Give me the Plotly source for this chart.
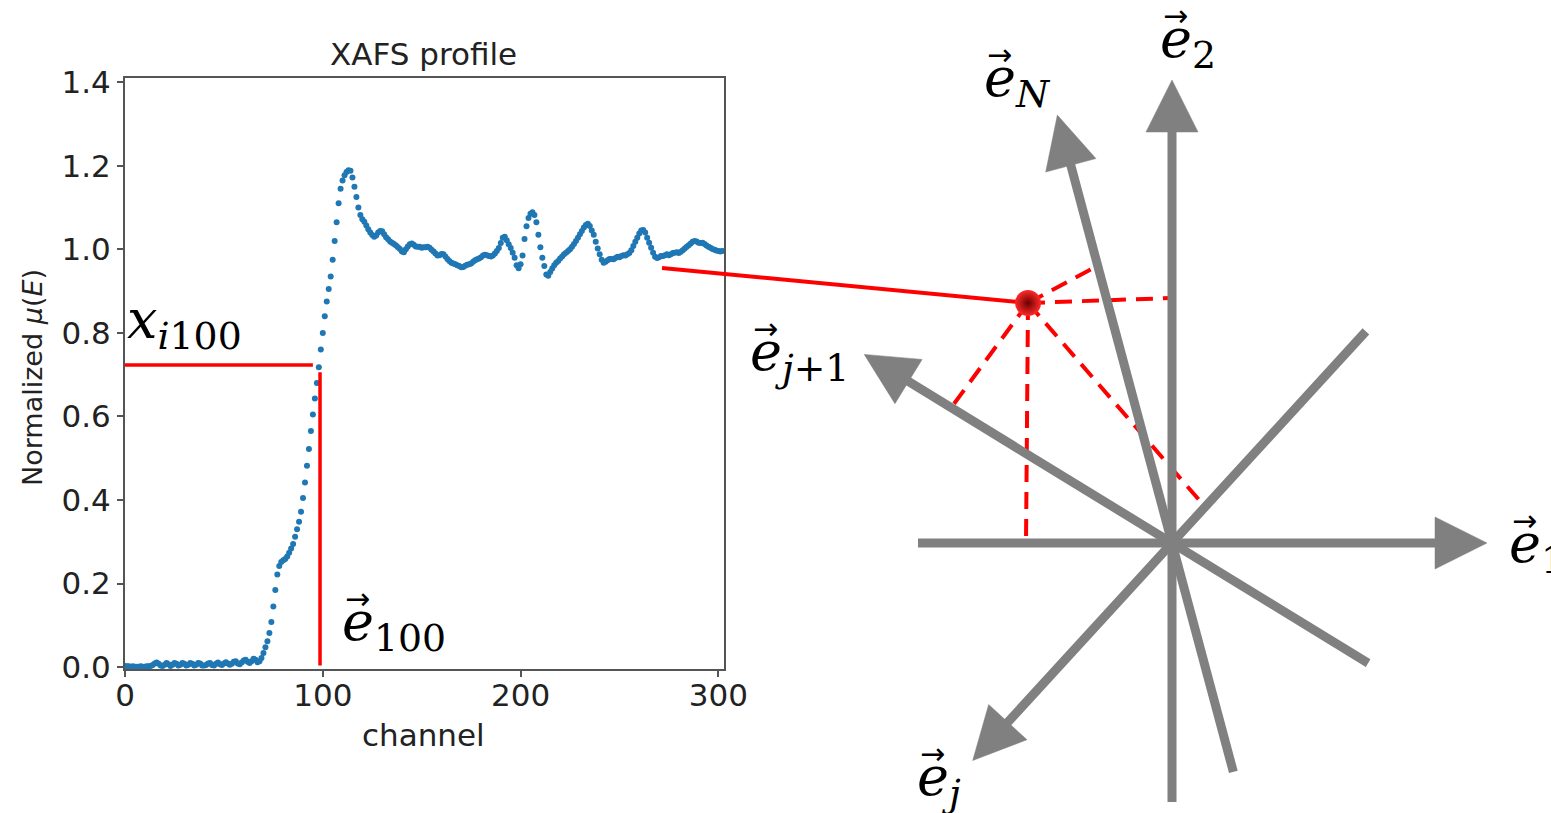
import math
import plotly.graph_objects as go

# ---------------- data: XAFS profile ----------------
channel = list(range(303))
mu_norm = [
    0.003, 0.002, 0.002, 0.001, 0.002, 0.001, 0.001, 0.001, 0.002, 0.001, 0.001, 0.002, 0.002, 0.003, 0.005,
    0.009, 0.011, 0.008, 0.004, 0.003, 0.006, 0.010, 0.007, 0.003, 0.006, 0.010, 0.008, 0.004, 0.006, 0.010,
    0.008, 0.004, 0.006, 0.010, 0.008, 0.004, 0.006, 0.010, 0.009, 0.004,
    0.004,
    0.005, 0.009, 0.010, 0.005, 0.004, 0.008, 0.011, 0.007, 0.005, 0.009, 0.012, 0.009, 0.006, 0.008, 0.013,
    0.014, 0.009, 0.007, 0.011, 0.016, 0.018, 0.013, 0.010, 0.014, 0.020, 0.018, 0.012, 0.014, 0.022, 0.034,
    0.048, 0.062, 0.082, 0.108, 0.145, 0.185, 0.222, 0.242, 0.252, 0.256,
    0.259, 0.265, 0.274, 0.284, 0.295, 0.312, 0.330, 0.348, 0.372, 0.405,
    0.442, 0.482, 0.522, 0.565, 0.605, 0.643, 0.680, 0.718, 0.760, 0.800,
    0.840, 0.875, 0.905, 0.935, 0.975, 1.020, 1.065, 1.110, 1.145, 1.165,
    1.177, 1.185, 1.189, 1.188, 1.172, 1.150, 1.125, 1.100, 1.082, 1.072,
    1.066, 1.057, 1.048, 1.040, 1.034, 1.030, 1.033, 1.040, 1.044, 1.043,
    1.036, 1.029, 1.024, 1.019, 1.016, 1.013, 1.009, 1.005, 1.001, 0.995,
    0.993, 1.000, 1.007, 1.012, 1.014, 1.011, 1.007, 1.006, 1.006, 1.004,
    1.005,
    1.005, 1.006, 1.004, 0.999, 0.995, 0.990, 0.985, 0.986, 0.989, 0.988,
    0.983, 0.977, 0.972, 0.968, 0.966, 0.964, 0.962, 0.960, 0.957, 0.958,
    0.961, 0.963, 0.964, 0.966, 0.970, 0.974, 0.976, 0.978, 0.981, 0.985,
    0.987, 0.986, 0.984, 0.983, 0.985, 0.990, 0.996, 1.003, 1.015, 1.028,
    1.030, 1.022, 1.012, 1.003, 0.992, 0.980, 0.962, 0.955, 0.964, 0.985,
    1.025, 1.055, 1.075, 1.085, 1.089, 1.082, 1.065, 1.035, 1.005, 0.980,
    0.960, 0.940, 0.937, 0.946, 0.954, 0.962, 0.968, 0.972, 0.978, 0.983,
    0.988, 0.992, 0.996, 1.000, 1.006, 1.013, 1.020, 1.028, 1.036, 1.044,
    1.052, 1.058, 1.061, 1.056, 1.045, 1.035, 1.018, 1.002, 0.988, 0.975,
    0.968, 0.970, 0.974, 0.977,
    0.977,
    0.976, 0.979, 0.982, 0.981, 0.984, 0.986,
    0.985, 0.988, 0.991, 0.998, 1.008, 1.018, 1.028, 1.038, 1.045, 1.046,
    1.040, 1.028, 1.016, 1.004, 0.992, 0.982, 0.979, 0.981, 0.984, 0.984,
    0.986, 0.988, 0.986, 0.988, 0.991, 0.992, 0.993, 0.991, 0.994, 0.998,
    1.002, 1.006, 1.010, 1.014, 1.018, 1.020, 1.019, 1.016, 1.015, 1.016,
    1.013, 1.009, 1.006, 1.004, 1.001, 0.999, 0.997, 0.996, 0.995, 0.996,
]

x_ticks = [0, 100, 200, 300]
y_ticks = [0.0, 0.2, 0.4, 0.6, 0.8, 1.0, 1.2, 1.4]
y_tick_labels = ["0.0", "0.2", "0.4", "0.6", "0.8", "1.0", "1.2", "1.4"]

# red guide lines in the profile panel
xi_level = 0.723
xi_line_ch = [0, 95]
e100_ch = 98.6
e100_line_mu = [0.004, 0.706]

# ---------------- data: basis-vector diagram (origin where vectors meet, y up) ----------------
basis_angle_deg = [0, 90, 105, 148.5, 227.5]
basis_len_fwd = [315, 463, 443, 361, 295]
basis_len_back = [254, 259, 237, 230, 287]

point_x, point_y = -144, 240
proj_t = [-146, 245, 287, 259, -49]
connector_start = (-510, 275)

head_len = 52
head_half = 26

# math labels: main letter, subscript, left edge and baseline (diagram coords)
label_main = ["e", "e", "e", "e", "e", "e", "x"]
label_sub = ["1", "2", "<i>N</i>", "<i>j</i>+1", "<i>j</i>", "100", "<i>i</i>100"]
label_has_arrow = [True, True, True, True, True, True, False]
label_left = [335, -14, -190, -424, -257, -832, -1047]
label_base = [-19, 486, 447, 173, -252, -97, 205]

GRAY = "#808080"
RED = "#ff0000"
MATH_SIZE = 54
MATH_FONT = dict(family="DejaVu Serif", size=MATH_SIZE, color="black")
ARROW_FONT = dict(family="DejaVu Sans", size=30, color="black")

fig = go.Figure()

# profile scatter
fig.add_trace(go.Scatter(x=channel, y=mu_norm, mode="markers",
                         marker=dict(color="#1f77b4", size=6, line=dict(width=0)),
                         xaxis="x", yaxis="y", hoverinfo="skip"))
fig.add_trace(go.Scatter(x=xi_line_ch, y=[xi_level, xi_level], mode="lines",
                         line=dict(color=RED, width=3.5), xaxis="x", yaxis="y"))
fig.add_trace(go.Scatter(x=[e100_ch, e100_ch], y=e100_line_mu, mode="lines",
                         line=dict(color=RED, width=3.5), xaxis="x", yaxis="y"))

# dashed projections
for ang, t in zip(basis_angle_deg, proj_t):
    ux, uy = math.cos(math.radians(ang)), math.sin(math.radians(ang))
    fig.add_trace(go.Scatter(x=[point_x, t * ux], y=[point_y, t * uy], mode="lines",
                             line=dict(color=RED, width=4, dash="17px,10px"),
                             xaxis="x2", yaxis="y2", hoverinfo="skip"))

# gray basis lines and arrowheads
hx, hy = [], []
for ang, lf, lb in zip(basis_angle_deg, basis_len_fwd, basis_len_back):
    ux, uy = math.cos(math.radians(ang)), math.sin(math.radians(ang))
    end = lf - head_len + 4
    fig.add_trace(go.Scatter(x=[-lb * ux, end * ux], y=[-lb * uy, end * uy], mode="lines",
                             line=dict(color=GRAY, width=9),
                             xaxis="x2", yaxis="y2", hoverinfo="skip"))
    bx, by = (lf - head_len) * ux, (lf - head_len) * uy
    px_, py_ = -uy, ux
    hx += [lf * ux, bx + head_half * px_, bx - head_half * px_, lf * ux, None]
    hy += [lf * uy, by + head_half * py_, by - head_half * py_, lf * uy, None]
fig.add_trace(go.Scatter(x=hx, y=hy, mode="lines", fill="toself", fillcolor=GRAY,
                         line=dict(color=GRAY, width=0.5), xaxis="x2", yaxis="y2", hoverinfo="skip"))

# connector and point
fig.add_trace(go.Scatter(x=[connector_start[0], point_x], y=[connector_start[1], point_y], mode="lines",
                         line=dict(color=RED, width=4), xaxis="x2", yaxis="y2", hoverinfo="skip"))
fig.add_trace(go.Scatter(x=[point_x], y=[point_y], mode="markers",
                         marker=dict(color="#ff2a2a", size=26,
                                     gradient=dict(type="radial", color="#6a0000"),
                                     line=dict(width=0)),
                         xaxis="x2", yaxis="y2", hoverinfo="skip"))

ann = []
ascent = 0.928 * MATH_SIZE + 2
for m, s, arr, lx, lb in zip(label_main, label_sub, label_has_arrow, label_left, label_base):
    ann.append(dict(text=f"<i>{m}</i><sub>{s}</sub>", x=lx, y=lb + ascent, xref="x2", yref="y2",
                    xanchor="left", yanchor="top", showarrow=False, font=MATH_FONT))
    if arr:
        ann.append(dict(text="\u2192", x=lx + 17, y=lb + 42, xref="x2", yref="y2",
                        xanchor="center", yanchor="middle", showarrow=False, font=ARROW_FONT))

TXT = dict(family="DejaVu Sans", color="#222")
ann.append(dict(text="XAFS profile", x=424 / 1551, y=(813 - 54) / 813, xref="paper", yref="paper",
                xanchor="center", yanchor="middle", showarrow=False, font=dict(size=31, **TXT)))
ann.append(dict(text="channel", x=424 / 1551, y=(813 - 735) / 813, xref="paper", yref="paper",
                xanchor="center", yanchor="middle", showarrow=False, font=dict(size=31, **TXT)))
ann.append(dict(text="Normalized <i>μ</i>(<i>E</i>)", x=32 / 1551, y=(813 - 378) / 813,
                xref="paper", yref="paper", textangle=-90, xanchor="center", yanchor="middle",
                showarrow=False, font=dict(size=27, **TXT)))

axis_common = dict(showline=True, mirror=True, linecolor="#555", linewidth=2, ticks="outside",
                   ticklen=6, tickwidth=1.5, tickcolor="#555", showgrid=False, zeroline=False,
                   automargin=False,
                   tickfont=dict(family="DejaVu Sans", size=31, color="#222"))

fig.update_layout(
    width=1551, height=813, margin=dict(l=0, r=0, t=0, b=0, pad=0, autoexpand=False),
    paper_bgcolor="white", plot_bgcolor="rgba(0,0,0,0)", showlegend=False,
    xaxis=dict(domain=[125 / 1551, 724.3 / 1551], range=[0, 303], tickvals=x_ticks,
               anchor="y", fixedrange=True, ticklabelstandoff=-9, **axis_common),
    yaxis=dict(domain=[(813 - 669.3) / 813, (813 - 78) / 813], range=[-0.005, 1.41],
               tickvals=y_ticks, ticktext=y_tick_labels, anchor="x", fixedrange=True, **axis_common),
    xaxis2=dict(domain=[0, 1], range=[-1172, 379], visible=False, anchor="y2",
                fixedrange=True, automargin=False),
    yaxis2=dict(domain=[0, 1], range=[-270, 543], visible=False, anchor="x2",
                fixedrange=True, automargin=False),
    annotations=ann,
)

fig.write_html("out.html")
